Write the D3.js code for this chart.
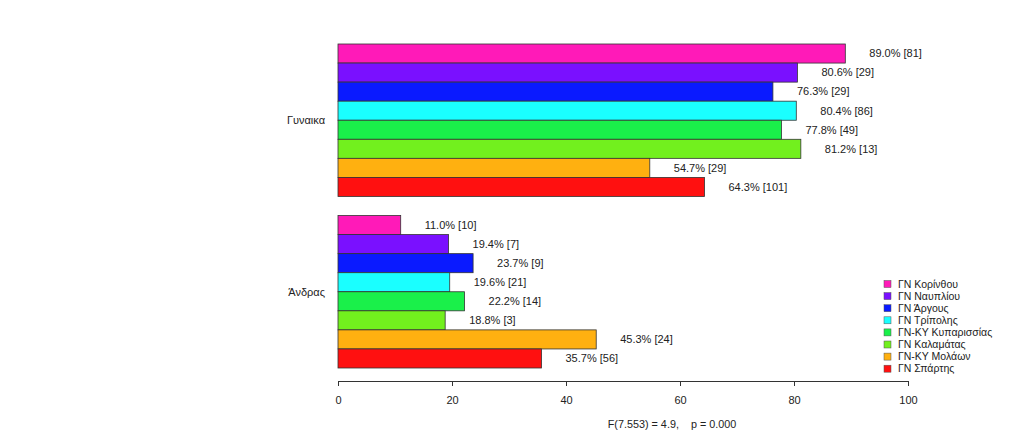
<!DOCTYPE html>
<html><head><meta charset="utf-8">
<script src="https://cdn.jsdelivr.net/npm/d3@7"></script>
<style>body{margin:0;background:#fff;}svg{display:block;font-family:"Liberation Sans",Arial,sans-serif;}</style>
</head><body>
<script>
const groups = ["Γυναικα", "Άνδρας"];
const hospitals = ["ΓΝ Κορίνθου", "ΓΝ Ναυπλίου", "ΓΝ Άργους", "ΓΝ Τρίπολης", "ΓΝ-ΚΥ Κυπαρισσίας", "ΓΝ Καλαμάτας", "ΓΝ-ΚΥ Μολάων", "ΓΝ Σπάρτης"];
const colors = ["#ff1ab8", "#7a10ff", "#0a1aff", "#1affff", "#1af04a", "#72f01e", "#ffb010", "#ff1010"];
const femalePct = [89.0, 80.6, 76.3, 80.4, 77.8, 81.2, 54.7, 64.3];
const femaleN = [81, 29, 29, 86, 49, 13, 29, 101];
const malePct = [11.0, 19.4, 23.7, 19.6, 22.2, 18.8, 45.3, 35.7];
const maleN = [10, 7, 9, 21, 14, 3, 24, 56];
const xTicks = [0, 20, 40, 60, 80, 100];
const footnote = "F(7.553) = 4.9,    p = 0.000";

const W = 1024, H = 444;
const svg = d3.select("body").append("svg").attr("width", W).attr("height", H);

const x = d3.scaleLinear().domain([0, 100]).range([338, 908]);
const yGroup = d3.scaleBand().domain(groups).range([44, 368]).paddingInner(1/9).paddingOuter(0);
const yInner = d3.scaleBand().domain(hospitals).range([0, yGroup.bandwidth()]).padding(0);

const data = [
  {g: groups[0], pct: femalePct, n: femaleN},
  {g: groups[1], pct: malePct, n: maleN}
];

data.forEach(grp => {
  const gy = yGroup(grp.g);
  const gEl = svg.append("g").attr("transform", `translate(0,${gy})`);
  hospitals.forEach((h, i) => {
    gEl.append("rect")
      .attr("x", x(0)).attr("y", yInner(h))
      .attr("width", x(grp.pct[i]) - x(0)).attr("height", yInner.bandwidth())
      .attr("fill", colors[i]).attr("stroke", "#333").attr("stroke-width", 0.8);
    gEl.append("text")
      .attr("x", x(grp.pct[i]) + 24).attr("y", yInner(h) + yInner.bandwidth() / 2)
      .attr("dy", "0.35em").attr("font-size", 11).attr("fill", "#222")
      .text(grp.pct[i].toFixed(1) + "% [" + grp.n[i] + "]");
  });
  svg.append("text")
    .attr("x", 325).attr("y", gy + yGroup.bandwidth() / 2)
    .attr("dy", "0.35em").attr("text-anchor", "end").attr("font-size", 11).attr("fill", "#222")
    .text(grp.g);
});

const axis = d3.axisBottom(x).tickValues(xTicks).tickSize(5).tickPadding(10).tickSizeOuter(0);
const ax = svg.append("g").attr("transform", "translate(0,381)").call(axis);
ax.select(".domain").attr("stroke", "#333");
ax.selectAll(".tick line").attr("stroke", "#333");
ax.selectAll(".tick text").attr("font-size", 11).attr("fill", "#222").attr("font-family", "Liberation Sans, Arial, sans-serif");

svg.append("text").attr("x", 672).attr("y", 428).attr("text-anchor", "middle")
  .attr("font-size", 10.8).attr("fill", "#222").attr("xml:space", "preserve").style("white-space", "pre").text(footnote);

const leg = svg.append("g").attr("transform", "translate(884,284)");
hospitals.forEach((h, i) => {
  const row = leg.append("g").attr("transform", `translate(0,${i * 12.1})`);
  row.append("rect").attr("x", 0).attr("y", -3.5).attr("width", 7).attr("height", 7)
    .attr("fill", colors[i]).attr("stroke", "#555").attr("stroke-width", 0.5);
  row.append("text").attr("x", 14).attr("y", 0).attr("dy", "0.35em")
    .attr("font-size", 10.5).attr("fill", "#222").text(h);
});
</script>
</body></html>
